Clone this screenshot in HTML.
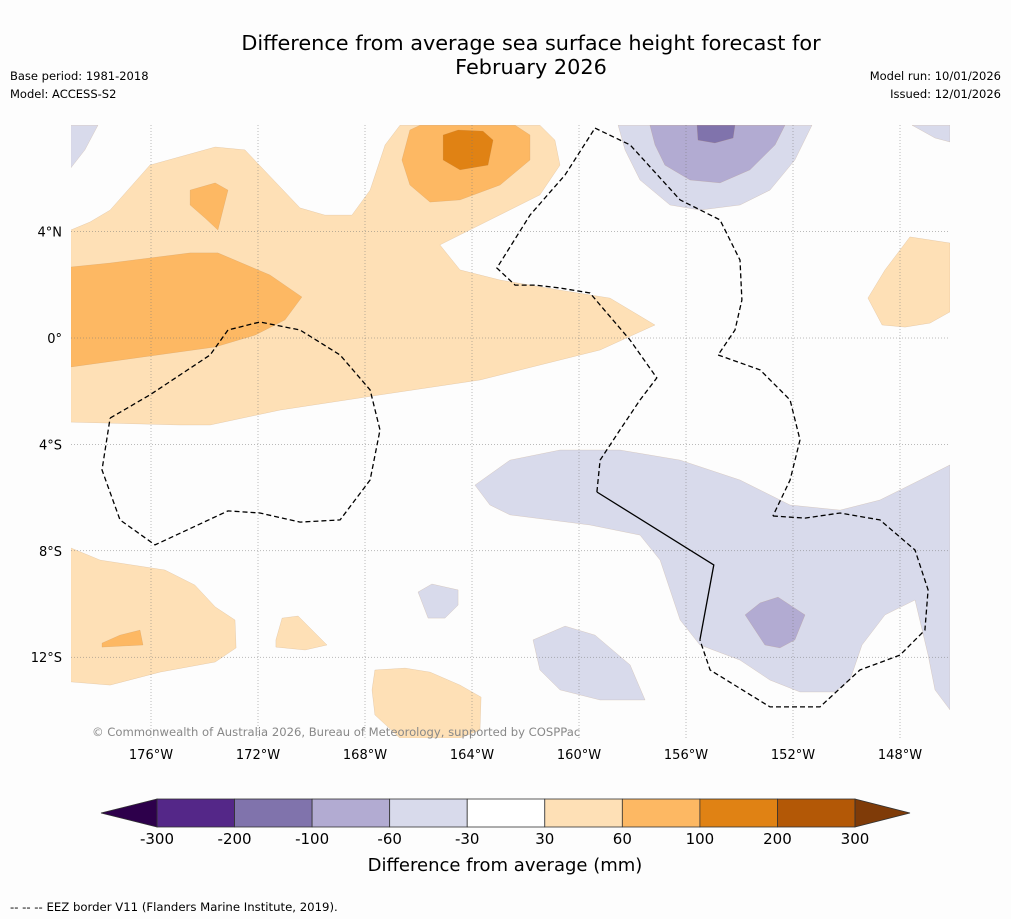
<!DOCTYPE html>
<html><head><meta charset="utf-8"><style>
html,body{margin:0;padding:0;background:#fdfdfd;}
svg{display:block;font-family:"DejaVu Sans","Liberation Sans",sans-serif;}
</style></head><body>
<svg id="chart" width="1011" height="919" viewBox="0 0 1011 919">
<rect x="0" y="0" width="1011" height="919" fill="#fdfdfd"/>
<text x="531" y="50" font-size="20.8" text-anchor="middle">Difference from average sea surface height forecast for</text>
<text x="531" y="74" font-size="20.8" text-anchor="middle">February 2026</text>
<text x="10" y="80" font-size="11.5">Base period: 1981-2018</text>
<text x="10" y="98" font-size="11.5">Model: ACCESS-S2</text>
<text x="1001" y="80" font-size="11.5" text-anchor="end">Model run: 10/01/2026</text>
<text x="1001" y="98" font-size="11.5" text-anchor="end">Issued: 12/01/2026</text>
<g id="map"></g>
<g id="cbar"></g>
<text x="505" y="871" font-size="18" text-anchor="middle">Difference from average (mm)</text>
<text x="10" y="911" font-size="11.7">--  --  -- EEZ border V11 (Flanders Marine Institute, 2019).</text>
</svg>
<script>
const levels=[-300,-200,-100,-60,-30,30,60,100,200,300];
const levelColors=["#542788","#8073ac","#b2abd2","#d8daeb","#ffffff","#fee0b6","#fdb863","#e08214","#b35806"];
const extendColors=["#2d004b","#7f3b08"];
const lonTicks=[-176,-172,-168,-164,-160,-156,-152,-148];
const latTicks=[4,0,-4,-8,-12];
const lonTickLabels=["176°W","172°W","168°W","164°W","160°W","156°W","152°W","148°W"];
const latTickLabels=["4°N","0°","4°S","8°S","12°S"];
const contours=[
[5,[[-179,4.06],[-178.28,4.36],[-177.53,4.81],[-176.04,6.5],[-173.6,7.18],[-172.49,7.07],[-170.43,4.89],[-169.5,4.62],[-168.49,4.62],[-167.81,5.56],[-167.25,7.26],[-166.69,8],[-161.46,8],[-160.9,7.44],[-160.71,6.5],[-161.46,5.38],[-163.33,4.44],[-165.2,3.5],[-164.45,2.56],[-162.95,2.18],[-160.71,1.8],[-158.84,1.5],[-157.16,0.49],[-159.21,-0.45],[-163.7,-1.58],[-167.44,-2.14],[-171.18,-2.71],[-173.79,-3.27],[-174.92,-3.27],[-179,-3.16]]],
[6,[[-179,2.67],[-177.53,2.82],[-174.54,3.2],[-173.5,3.2],[-171.55,2.37],[-170.36,1.54],[-170.99,0.68],[-172.11,0.11],[-173.6,-0.34],[-179,-1.09]]],
[6,[[-174.54,5.56],[-173.6,5.83],[-173.12,5.56],[-173.5,4.06],[-173.98,4.51],[-174.54,5.0]]],
[6,[[-166.32,7.82],[-165.94,8],[-162.39,8],[-161.83,7.63],[-161.83,6.69],[-162.95,5.75],[-164.45,5.19],[-165.57,5.11],[-166.32,5.75],[-166.62,6.69]]],
[7,[[-165.08,7.63],[-164.52,7.82],[-163.59,7.78],[-163.21,7.44],[-163.4,6.5],[-164.45,6.32],[-165.08,6.69]]],
[5,[[-147.63,3.8],[-146.13,3.57],[-146.13,0.98],[-146.88,0.56],[-147.81,0.41],[-148.67,0.49],[-149.2,1.5],[-148.56,2.56]]],
[5,[[-179,-7.89],[-177.9,-8.35],[-175.48,-8.72],[-174.36,-9.29],[-173.6,-10.11],[-172.86,-10.6],[-172.82,-11.65],[-173.6,-12.18],[-175.66,-12.56],[-177.53,-13.05],[-179,-12.93]]],
[6,[[-177.83,-11.47],[-177.16,-11.17],[-176.41,-10.98],[-176.3,-11.54],[-177.83,-11.62]]],
[5,[[-171.33,-11.35],[-171.1,-10.53],[-170.5,-10.45],[-169.42,-11.54],[-170.24,-11.73],[-171.33,-11.62]]],
[5,[[-167.63,-12.48],[-166.5,-12.41],[-165.57,-12.56],[-164.45,-13.05],[-163.66,-13.5],[-163.7,-14.74],[-164.45,-15.04],[-166.69,-15.04],[-167.63,-14.17],[-167.74,-13.23]]],
[3,[[-163.89,-5.53],[-162.58,-4.59],[-160.71,-4.21],[-158.47,-4.21],[-156.22,-4.59],[-153.98,-5.34],[-152.11,-6.28],[-150.24,-6.47],[-148.75,-6.09],[-147.25,-5.34],[-146.13,-4.77],[-146.13,-13.98],[-146.69,-13.23],[-146.95,-11.92],[-147.44,-9.85],[-148.56,-10.41],[-149.42,-11.54],[-149.87,-12.86],[-150.43,-13.31],[-151.74,-13.31],[-152.86,-12.86],[-153.98,-12.11],[-155.48,-11.54],[-156.22,-10.6],[-156.97,-8.35],[-157.72,-7.41],[-159.59,-7.03],[-162.58,-6.65],[-163.33,-6.28]]],
[2,[[-153.79,-10.41],[-153.23,-9.96],[-152.56,-9.74],[-151.55,-10.41],[-151.93,-11.35],[-152.49,-11.65],[-153.05,-11.54]]],
[3,[[-166.02,-9.55],[-165.5,-9.25],[-164.52,-9.47],[-164.52,-10.04],[-165.01,-10.53],[-165.64,-10.53]]],
[3,[[-161.72,-11.35],[-160.52,-10.83],[-159.4,-11.17],[-158.09,-12.29],[-157.53,-13.61],[-159.21,-13.61],[-160.71,-13.23],[-161.46,-12.48]]],
[3,[[-158.54,8],[-151.29,8],[-151.93,6.69],[-152.86,5.56],[-153.98,5.0],[-155.48,4.81],[-156.6,5.0],[-157.72,5.94],[-158.28,7.07]]],
[2,[[-157.35,8],[-152.3,8],[-152.67,7.26],[-153.61,6.32],[-154.73,5.83],[-155.85,5.94],[-156.79,6.5],[-157.16,7.26]]],
[1,[[-155.59,8],[-154.17,8],[-154.24,7.52],[-154.92,7.33],[-155.55,7.44]]],
[3,[[-179,8],[-177.98,8],[-178.47,7.07],[-179,6.39]]],
[3,[[-147.55,8],[-146.13,8],[-146.13,7.37],[-146.69,7.52]]]
];
const eezDashed=[
[[-177.53,-3.01],[-176.04,-2.14],[-173.79,-0.64],[-173.12,0.3],[-171.93,0.6],[-170.43,0.3],[-168.93,-0.64],[-167.81,-1.95],[-167.44,-3.46],[-167.81,-5.34],[-168.93,-6.84],[-170.43,-6.92],[-171.93,-6.58],[-173.12,-6.5],[-175.85,-7.78],[-177.16,-6.84],[-177.83,-4.96],[-177.53,-3.01]],
[[-159.4,7.89],[-158.09,7.26],[-156.22,5.19],[-154.73,4.44],[-153.98,2.93],[-153.91,1.43],[-154.17,0.3],[-154.8,-0.64]],
[[-154.8,-0.64],[-153.23,-1.2],[-152.11,-2.33],[-151.74,-3.83],[-152.11,-5.34],[-152.75,-6.69]],
[[-152.75,-6.69],[-151.55,-6.77],[-150.24,-6.58],[-148.75,-6.84],[-147.44,-7.97],[-146.95,-9.47],[-147.07,-10.98],[-148.0,-11.92],[-149.5,-12.48],[-150.99,-13.87],[-152.86,-13.87],[-155.1,-12.48],[-155.48,-11.35]],
[[-159.33,-5.79],[-159.21,-4.59],[-158.47,-3.46],[-157.72,-2.33],[-157.09,-1.5],[-158.09,-0.08],[-159.21,1.24],[-159.59,1.69],[-160.71,1.88],[-161.64,1.99],[-162.39,1.99],[-163.07,2.63],[-161.83,4.62],[-160.52,6.13],[-159.4,7.89]]
];
const eezSolid=[[-159.33,-5.79],[-154.96,-8.53],[-155.48,-11.35]];
const NS="http://www.w3.org/2000/svg";
const X0=71,X1=950,Y0=125,Y1=738;
function xs(lon){return 151+(lon+176)*26.75;}
function ys(lat){return 338-lat*26.6;}
function mk(tag,attrs,parent){const e=document.createElementNS(NS,tag);for(const k in attrs)e.setAttribute(k,attrs[k]);parent.appendChild(e);return e;}
const map=document.getElementById('map');
const defs=mk('defs',{},map);
const cp=mk('clipPath',{id:'clip'},defs);
mk('rect',{x:X0,y:Y0,width:X1-X0,height:Y1-Y0},cp);
const inner=mk('g',{'clip-path':'url(#clip)'},map);
contours.forEach((c,i)=>{
  const p=mk('polygon',{points:c[1].map(q=>xs(q[0]).toFixed(1)+','+ys(q[1]).toFixed(1)).join(' '),fill:levelColors[c[0]],stroke:'#b08050','stroke-width':0.3,'stroke-opacity':0.5},inner);
  
  
});
lonTicks.forEach((v,i)=>{
  const l=mk('line',{x1:xs(v),x2:xs(v),y1:Y0,y2:Y1,stroke:'#777','stroke-width':0.5,'stroke-dasharray':'1,2'},inner);
  
  
  const t=mk('text',{x:xs(v),y:759,'font-size':13,'text-anchor':'middle'},map);
  t.textContent=lonTickLabels[i];
  
  
});
latTicks.forEach((v,i)=>{
  const l=mk('line',{x1:X0,x2:X1,y1:ys(v),y2:ys(v),stroke:'#777','stroke-width':0.5,'stroke-dasharray':'1,2'},inner);
  
  
  const t=mk('text',{x:62,y:ys(v)+5,'font-size':13,'text-anchor':'end'},map);
  t.textContent=latTickLabels[i];
  
  
});
eezDashed.forEach(seg=>{
  const p=mk('polyline',{points:seg.map(q=>xs(q[0]).toFixed(1)+','+ys(q[1]).toFixed(1)).join(' '),fill:'none',stroke:'#000','stroke-width':1.3,'stroke-dasharray':'5,3'},inner);
  
  
});
const sp=mk('polyline',{points:eezSolid.map(q=>xs(q[0]).toFixed(1)+','+ys(q[1]).toFixed(1)).join(' '),fill:'none',stroke:'#000','stroke-width':1.3},inner);


const cr=mk('text',{x:92,y:736,'font-size':11.6,fill:'#888'},map);
cr.textContent='© Commonwealth of Australia 2026, Bureau of Meteorology, supported by COSPPac';


const cb=document.getElementById('cbar');
const CX0=157,CX1=855,CY0=799,CY1=827;
const w=(CX1-CX0)/levelColors.length;
levelColors.forEach((c,i)=>{
  const r=mk('rect',{x:CX0+i*w,y:CY0,width:w,height:CY1-CY0,fill:c,stroke:'#333','stroke-width':0.8},cb);
  
  
});
const tl=mk('polygon',{points:`${CX0},${CY0} ${CX0},${CY1} 101,${(CY0+CY1)/2}`,fill:extendColors[0],stroke:'#333','stroke-width':0.8},cb);


const tr=mk('polygon',{points:`${CX1},${CY0} ${CX1},${CY1} 910,${(CY0+CY1)/2}`,fill:extendColors[1],stroke:'#333','stroke-width':0.8},cb);


levels.forEach((v,i)=>{
  const t=mk('text',{x:CX0+i*w,y:844,'font-size':15,'text-anchor':'middle'},cb);
  t.textContent=String(v);
  
  
});
</script>
</body></html>
